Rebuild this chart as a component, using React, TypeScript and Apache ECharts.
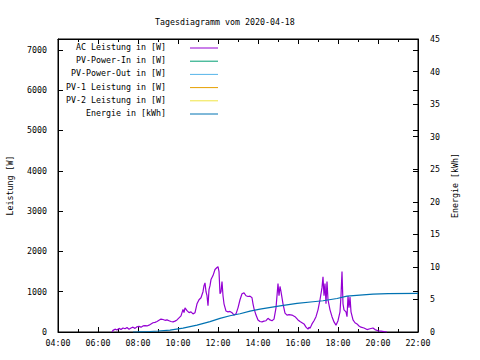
import { useEffect, useRef } from 'react';
import * as echarts from 'echarts';

const TITLE = 'Tagesdiagramm vom 2020-04-18';
const LEFT_NAME = 'Leistung [W]';
const RIGHT_NAME = 'Energie [kWh]';

const seriesNames = [
  'AC Leistung in [W]',
  'PV-Power-In in [W]',
  'PV-Power-Out in [W]',
  'PV-1 Leistung in [W]',
  'PV-2 Leistung in [W]',
  'Energie in [kWh]',
];
const seriesColors = ['#9400d3', '#009e73', '#56b4e9', '#e69f00', '#f0e442', '#0072b2'];

// AC Leistung (hours of day, watts)
const acHours = [
  6.7, 6.75, 6.85, 6.95, 7.05, 7.15, 7.25, 7.35, 7.45, 7.55, 7.65, 7.75, 7.85, 7.95,
  8.05, 8.15, 8.25, 8.35, 8.45, 8.55, 8.65, 8.75, 8.85, 8.95, 9.05, 9.15, 9.25, 9.35,
  9.45, 9.55, 9.65, 9.75, 9.85, 9.95, 10.05, 10.15, 10.25, 10.3, 10.35, 10.45, 10.55,
  10.65, 10.75, 10.85, 10.95, 11.05, 11.15, 11.25, 11.3, 11.35, 11.4, 11.45, 11.5,
  11.55, 11.6, 11.65, 11.75, 11.85, 11.95, 12.0, 12.05, 12.1, 12.15, 12.2, 12.25,
  12.3, 12.4, 12.5, 12.6, 12.7, 12.8, 12.9, 13.0, 13.1, 13.2, 13.3, 13.4, 13.5, 13.6,
  13.7, 13.75, 13.8, 13.9, 14.0, 14.1, 14.2, 14.3, 14.4, 14.5, 14.6, 14.7, 14.8, 14.9,
  15.0, 15.05, 15.1, 15.15, 15.25, 15.35, 15.45, 15.55, 15.7, 15.85, 16.0, 16.1, 16.2,
  16.3, 16.4, 16.5, 16.55, 16.6, 16.7, 16.8, 16.9, 17.0, 17.1, 17.2, 17.25, 17.3,
  17.35, 17.4, 17.45, 17.5, 17.6, 17.7, 17.8, 17.9, 18.0, 18.1, 18.15, 18.2, 18.25,
  18.3, 18.4, 18.45, 18.5, 18.55, 18.6, 18.65, 18.75, 18.85, 18.95, 19.05, 19.15,
  19.3, 19.45, 19.6, 19.75, 19.85, 20.0, 20.15, 20.3, 20.45,
];
const acWatts = [
  0, 40, 70, 50, 90, 60, 100, 80, 110, 70, 100, 120, 90, 130,
  140, 120, 150, 160, 150, 170, 200, 230, 240, 260, 290, 320, 310, 290,
  300, 280, 260, 250, 270, 300, 350, 400, 560, 480, 600, 530, 480,
  500, 450, 480, 700, 800, 850, 1000, 1150, 1220, 1000, 900, 650,
  1050, 1150, 1300, 1400, 1550, 1600, 1620, 1500, 950, 1000, 1250, 900,
  700, 520, 500, 510, 480, 420, 450, 600, 800, 950, 970, 900, 880, 890,
  850, 700, 580, 420, 300, 260, 250, 270, 280, 340, 300, 280, 320, 600,
  1200, 900, 1130, 1000, 700, 470, 420, 430, 420, 380, 300, 260, 230,
  200, 120, 70, 120, 90, 200, 280, 380, 550, 800, 1100, 1370, 900,
  1200, 700, 1250, 800, 550, 380, 250, 170, 280, 500, 900, 1500, 700,
  550, 500, 380, 890, 600, 870, 500, 300, 230, 200, 150, 120,
  100, 60, 80, 100, 60, 30, 20, 10, 0,
];

// Energie (hours of day, kWh)
const energyHours = [
  7.75, 8.0, 8.6, 9.0, 9.6, 10.25, 10.95, 11.6, 12.1, 12.6, 13.1, 13.6, 14.1, 15.1,
  15.95, 16.75, 17.25, 17.95, 18.45, 19.25, 19.75, 20.5, 22.0,
];
const energyKWh = [
  0, 0.02, 0.08, 0.15, 0.3, 0.6, 1.05, 1.6, 2.1, 2.5, 2.8, 3.2, 3.5, 4.0,
  4.4, 4.65, 4.8, 5.15, 5.5, 5.7, 5.83, 5.9, 5.93,
];

const FONT = 'DejaVu Sans Mono';
const FS = 8.3;

export default function App() {
  const ref = useRef<HTMLDivElement>(null);
  useEffect(() => {
    if (!ref.current) return;
    const chart = echarts.init(ref.current, null, { renderer: 'svg' });
    const black = '#000';
    const labelStyle = { color: black, fontFamily: FONT, fontSize: FS };
    const zip = (xs: number[], ys: number[]) => xs.map((x, i) => [x, ys[i]]);

    const legendGraphics: any[] = [];
    seriesNames.forEach((name, i) => {
      const y = 47 + i * 13.2;
      legendGraphics.push({
        type: 'text',
        x: 166,
        y,
        style: {
          text: name,
          fill: black,
          font: `${FS}px "${FONT}"`,
          textAlign: 'right',
          textVerticalAlign: 'middle',
        },
      });
      legendGraphics.push({
        type: 'line',
        shape: { x1: 190, y1: y + 1, x2: 218, y2: y + 1 },
        style: { stroke: seriesColors[i], lineWidth: 1 },
      });
    });

    const xCommon = {
      type: 'value',
      min: 4,
      max: 22,
      interval: 2,
      splitLine: { show: false },
      axisLine: { show: true, onZero: false, lineStyle: { color: black, width: 1 } },
      axisTick: { show: true, inside: true, length: 5, lineStyle: { color: black } },
      minorTick: { show: true, splitNumber: 2, length: 3, lineStyle: { color: black } },
    };

    const option: any = {
      animation: false,
      backgroundColor: '#fff',
      title: {
        text: TITLE,
        left: 150,
        top: 13,
        textStyle: { fontFamily: FONT, fontSize: FS, fontWeight: 'normal', color: black },
      },
      grid: {
        left: 58,
        right: 62,
        top: 39,
        bottom: 28,
        containLabel: false,
        outerBoundsMode: 'none',
        show: true,
        borderColor: black,
        borderWidth: 1,
        backgroundColor: 'transparent',
      },
      xAxis: [
        {
          ...xCommon,
          position: 'bottom',
          axisLabel: {
            ...labelStyle,
            margin: 7,
            formatter: (v: number) => `${String(v).padStart(2, '0')}:00`,
          },
        },
        {
          ...xCommon,
          position: 'top',
          axisLabel: { show: false },
        },
      ],
      yAxis: [
        {
          type: 'value',
          position: 'left',
          min: 0,
          max: 7270,
          interval: 1000,
          name: LEFT_NAME,
          nameLocation: 'middle',
          nameRotate: 90,
          nameGap: 44,
          nameTextStyle: { ...labelStyle },
          splitLine: { show: false },
          axisLine: { show: true, lineStyle: { color: black } },
          axisTick: { show: true, inside: true, length: 5, lineStyle: { color: black } },
          axisLabel: {
            ...labelStyle,
            margin: 11,
            showMaxLabel: false,
            formatter: (v: number) => (v % 1000 === 0 ? String(v) : ''),
          },
        },
        {
          type: 'value',
          position: 'right',
          min: 0,
          max: 45,
          interval: 5,
          name: RIGHT_NAME,
          nameLocation: 'middle',
          nameRotate: 90,
          nameGap: 25,
          nameTextStyle: { ...labelStyle },
          splitLine: { show: false },
          axisLine: { show: true, lineStyle: { color: black } },
          axisTick: { show: true, inside: true, length: 5, lineStyle: { color: black } },
          axisLabel: { ...labelStyle, margin: 12 },
        },
        {
          type: 'value',
          position: 'right',
          min: 0,
          max: 7270,
          interval: 1000,
          splitLine: { show: false },
          axisLine: { show: false },
          axisTick: { show: true, inside: true, length: 5, lineStyle: { color: black } },
          axisLabel: { show: false },
        },
      ],
      graphic: legendGraphics,
      series: [
        {
          name: seriesNames[0],
          type: 'line',
          xAxisIndex: 0,
          yAxisIndex: 0,
          data: zip(acHours, acWatts),
          showSymbol: false,
          lineStyle: { color: seriesColors[0], width: 1.2 },
          itemStyle: { color: seriesColors[0] },
        },
        ...[1, 2, 3, 4].map((i) => ({
          name: seriesNames[i],
          type: 'line',
          xAxisIndex: 0,
          yAxisIndex: 0,
          data: [],
          showSymbol: false,
          lineStyle: { color: seriesColors[i], width: 1 },
        })),
        {
          name: seriesNames[5],
          type: 'line',
          xAxisIndex: 0,
          yAxisIndex: 1,
          data: zip(energyHours, energyKWh),
          showSymbol: false,
          lineStyle: { color: seriesColors[5], width: 1.2 },
          itemStyle: { color: seriesColors[5] },
        },
      ],
    };
    chart.setOption(option);
    return () => chart.dispose();
  }, []);

  return (
    <div
      ref={ref}
      style={{ position: 'fixed', left: 0, top: 0, width: 480, height: 360, background: '#fff' }}
    />
  );
}
